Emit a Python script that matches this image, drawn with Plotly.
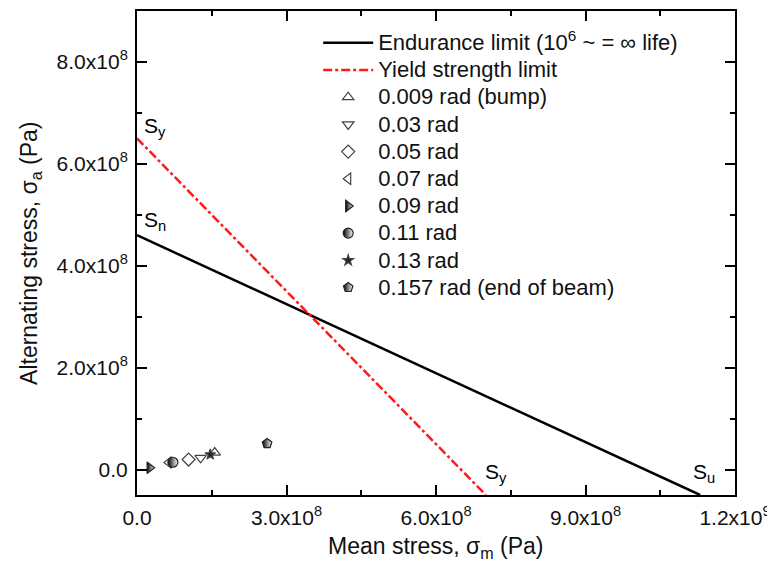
import plotly.graph_objects as go

# Lines
endurance_x = [0.0, 1.13e9]
endurance_y = [4.6e8, -5.0e7]
yield_x = [0.0, 7.0e8]
yield_y = [6.5e8, -5.0e7]

# Data points (mean stress, alternating stress)
series_names = ["0.009 rad (bump)", "0.03 rad", "0.05 rad", "0.07 rad",
                "0.09 rad", "0.11 rad", "0.13 rad", "0.157 rad (end of beam)"]
series_x = [[1.56e8], [1.276e8], [1.035e8], [6.4e7], [2.53e7], [7.2e7], [1.47e8], [2.61e8]]
series_y = [[3.33e7], [2.29e7], [1.96e7], [1.37e7], [3.3e6], [1.43e7], [2.94e7], [5.09e7]]

x_tickvals = [0, 3e8, 6e8, 9e8, 1.2e9]
x_ticktext = ["0.0", "3.0x10<sup>8</sup>", "6.0x10<sup>8</sup>", "9.0x10<sup>8</sup>", "1.2x10<sup>9</sup>"]
y_tickvals = [0, 2e8, 4e8, 6e8, 8e8]
y_ticktext = ["0.0", "2.0x10<sup>8</sup>", "4.0x10<sup>8</sup>", "6.0x10<sup>8</sup>", "8.0x10<sup>8</sup>"]

x_title = "Mean stress, \u03c3<sub>m</sub> (Pa)"
y_title = "Alternating stress, \u03c3<sub>a</sub> (Pa)"

FONT = "Liberation Sans, Arial, sans-serif"
GRAY = "#444444"


def big(txt):
    return '<span style="font-size:22px">' + txt + '</span>'


fig = go.Figure()
fig.add_trace(go.Scatter(x=endurance_x, y=endurance_y, mode="lines",
                         line=dict(color="black", width=2.5),
                         name=big("Endurance limit (10<sup>6</sup> ~ = \u221e life)"),
                         legendgroup="a"))
fig.add_trace(go.Scatter(x=yield_x, y=yield_y, mode="lines",
                         line=dict(color="#ff1a1a", width=2.5, dash="dashdot"),
                         name=big("Yield strength limit"), legendgroup="b"))

styles = [
    dict(symbol="triangle-up-open", color=GRAY, size=10),
    dict(symbol="triangle-down-open", color=GRAY, size=10),
    dict(symbol="diamond-open", color=GRAY, size=10),
    dict(symbol="triangle-left-open", color=GRAY, size=10),
    dict(symbol="triangle-right", color="black", size=10, gradient=dict(type="horizontal", color="white")),
    dict(symbol="circle", color="black", size=10, gradient=dict(type="horizontal", color="white")),
    dict(symbol="star", color="#222222", size=8),
    dict(symbol="pentagon", color="black", size=10, gradient=dict(type="horizontal", color="white")),
]
for i, (nm, xs, ys, st) in enumerate(zip(series_names, series_x, series_y, styles)):
    mk = dict(symbol=st["symbol"], color=st["color"], size=st["size"],
              line=dict(color="#222222" if "gradient" in st else GRAY, width=1.2))
    if "gradient" in st:
        mk["gradient"] = st["gradient"]
    fig.add_trace(go.Scatter(x=xs, y=ys, mode="markers", marker=mk, name=big(nm),
                             legendgroup="g%d" % i))

ann_font = dict(family=FONT, size=21, color="black")
labels = [("S<sub>y</sub>", 1.0e7, 6.72e8), ("S<sub>n</sub>", 1.0e7, 4.88e8),
          ("S<sub>y</sub>", 6.95e8, -0.6e7), ("S<sub>u</sub>", 11.12e8, -0.6e7)]
for txt, ax, ay in labels:
    fig.add_annotation(x=ax, y=ay, text=txt, showarrow=False, xanchor="left",
                       yanchor="middle", font=ann_font)

title_font = dict(family=FONT, size=23, color="#111111")
fig.add_annotation(xref="paper", yref="paper", x=0.5, y=-0.108, text=x_title,
                   showarrow=False, xanchor="center", yanchor="middle", font=title_font)
fig.add_annotation(xref="paper", yref="paper", x=-0.179, y=0.5, text=y_title,
                   showarrow=False, xanchor="center", yanchor="middle", textangle=-90,
                   font=title_font)

axis_common = dict(showgrid=False, zeroline=False, showline=True, linecolor="black",
                   linewidth=2, mirror="ticks", ticks="inside", ticklen=10,
                   tickwidth=1.5, tickcolor="black", automargin=False,
                   ticklabelstandoff=3,
                   tickfont=dict(family=FONT, size=21, color="#111111"),
                   minor=dict(ticks="inside", ticklen=5, tickwidth=1.5, tickcolor="black"))

fig.update_xaxes(range=[0, 1.2e9], tickvals=x_tickvals, ticktext=x_ticktext,
                 minor_tickvals=[1.5e8, 4.5e8, 7.5e8, 1.05e9], **axis_common)
fig.update_yaxes(range=[-5e7, 9e8], tickvals=y_tickvals, ticktext=y_ticktext,
                 minor_tickvals=[1e8, 3e8, 5e8, 7e8], **axis_common)

# page body has an 8px default margin, so the figure is sized/placed to compensate
fig.update_layout(
    width=775, height=567,
    margin=dict(l=129, r=47.5, t=3, b=80),
    paper_bgcolor="white", plot_bgcolor="white",
    showlegend=True,
    legend=dict(x=0.303, y=0.9726, xanchor="left", yanchor="top",
                bgcolor="rgba(0,0,0,0)", traceorder="grouped", tracegroupgap=0,
                font=dict(family=FONT, size=18.6, color="#111111"), itemwidth=50),
)

fig.write_html("out.html")
